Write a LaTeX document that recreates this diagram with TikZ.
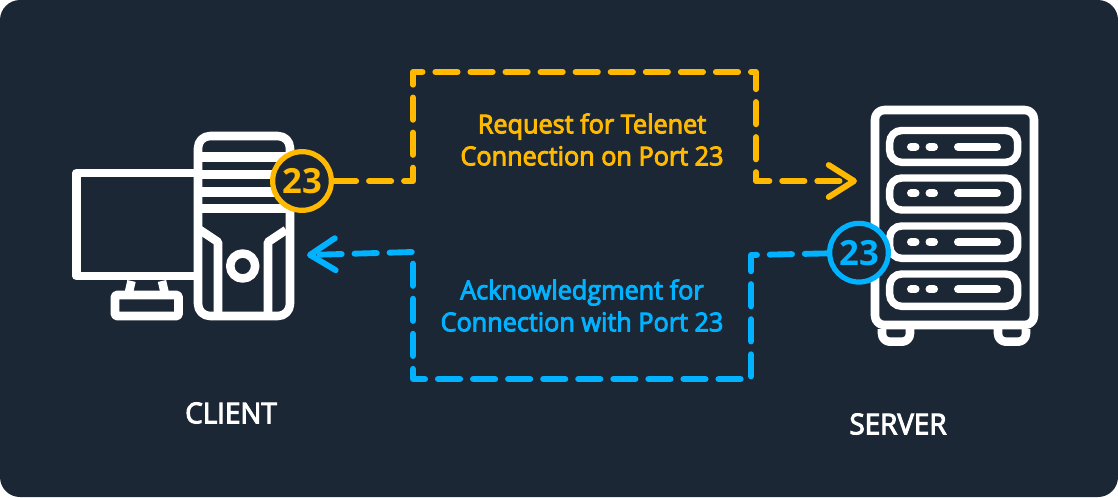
\documentclass[tikz,border=0pt]{standalone}
\usepackage{fontspec}
\setmainfont{Open Sans}[FakeStretch=0.97,FakeBold=3.5]
\newfontfamily\badgefont{Open Sans}
\usetikzlibrary{arrows.meta}
\definecolor{panelbg}{HTML}{1C2735}
\definecolor{reqcolor}{HTML}{FFB900}
\definecolor{ackcolor}{HTML}{00B2FF}
\tikzset{
icon/.style={draw=white,line width=6.4pt,line join=round},
stripe/.style={draw=white,line width=7pt},
slot/.style={draw=white,line width=5.6pt,rounded corners=9pt},
led/.style={draw=white,line width=6pt,line cap=round},
badge/.style={circle,draw=#1,fill=panelbg,line width=3.9pt,text=#1,minimum size=44pt,inner sep=0pt,font=\fontsize{26}{30}\selectfont\badgefont\bfseries},
link/.style={draw=#1,line width=4.4pt,line cap=round,line join=round,dash pattern=on 16.7pt off 9.6pt,-{Straight Barb[length=19pt,width=24pt,round,line width=4.4pt]}},
msg/.style={text=#1,align=center,font=\fontsize{19.5}{24}\selectfont},
caption/.style={text=white,font=\fontsize{21.5}{24}\selectfont}
}
\begin{document}
\begin{tikzpicture}[x=0.75pt,y=-0.75pt]
\useasboundingbox (0,0) rectangle (1118,497);
\fill[panelbg,rounded corners=15pt] (0,0) rectangle (1118,497);
%monitor
\draw[icon] (198,173) -- (76.5,173) -- (76.5,276) -- (198,276);
\draw[icon] (131.5,281) -- (129,292);
\draw[icon] (162,281) -- (164.5,292);
\draw[icon,rounded corners=1pt] (115,295) rectangle (178.5,316);
%tower
\draw[icon,rounded corners=9pt] (198,136) rectangle (290,316);
\draw[stripe] (198,157) -- (290,157);
\draw[stripe] (198,174.5) -- (290,174.5);
\draw[stripe] (198,192) -- (290,192);
\draw[stripe] (198,208.5) -- (290,208.5);
\draw[icon] (200,230) -- (218,242) -- (218,316);
\draw[icon] (286,230) -- (268,242) -- (268,316);
\draw[icon] (242.7,266) circle (12.5);
%rack
\draw[icon,rounded corners=7pt] (875,110) rectangle (1034,325);
\draw[icon,rounded corners=6pt] (882,329) -- (882,341.7) -- (910,341.7) -- (910,329);
\draw[icon,rounded corners=6pt] (998,329) -- (998,341.7) -- (1026,341.7) -- (1026,329);
\foreach \ya/\yb/\ym in {130.5/162.3/146.7,178/210/193.3,226/258.3/242,274/306.3/289.3}{
\draw[slot] (889.7,\ya) rectangle (1017.7,\yb);
\draw[led] (911,\ym) -- (915.5,\ym);
\draw[led] (929.5,\ym) -- (934,\ym);
\draw[led] (958,\ym) -- (997,\ym);
}
%badges
\node[badge=reqcolor] (clientport) at (302,181) {23};
\node[badge=ackcolor] (serverport) at (859,252.7) {23};
%free ends
\coordinate (servertip) at (857,181);
\coordinate (clienttip) at (307,255);
%links
\draw[link=reqcolor] (clientport) -- (413,181) -- (413,72) -- (756,72) -- (756,181) -- (servertip);
\draw[link=ackcolor] (serverport) -- (751,255) -- (751,379) -- (413,379) -- (413,252) -- (clienttip);
%labels
\node[msg=reqcolor] (request) at (592,139.5) {Request for Telenet\\Connection on Port 23};
\node[msg=ackcolor] (acknowledge) at (582,305.5) {Acknowledgment for\\Connection with Port 23};
\node[caption] (client) at (231,413) {CLIENT};
\node[caption] (server) at (898,424) {SERVER};
\end{tikzpicture}
\end{document}
